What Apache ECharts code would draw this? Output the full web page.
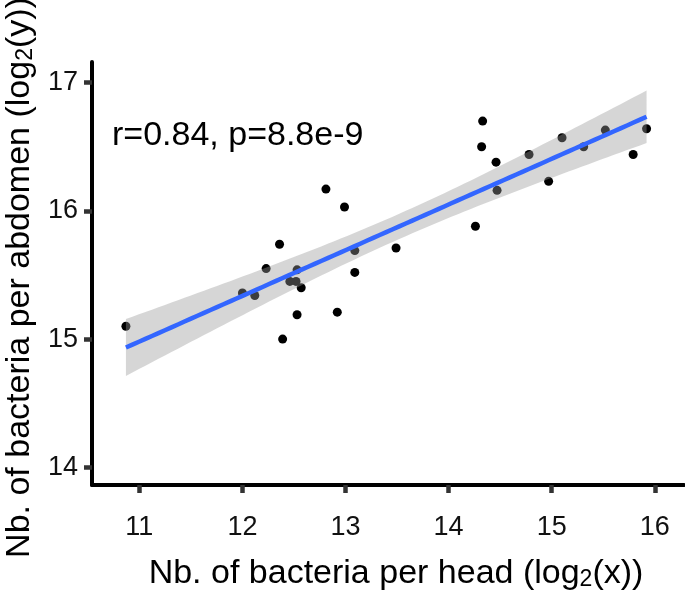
<!DOCTYPE html>
<html>
<head>
<meta charset="utf-8">
<script src="https://cdn.jsdelivr.net/npm/echarts@6/dist/echarts.min.js"></script>
<style>html,body{margin:0;padding:0;background:#fff}#c{width:685px;height:596px}</style>
</head>
<body>
<div id="c"></div>
<script>
// Data (log2 counts)
const headLog2 = [10.87,12.00,12.12,12.23,12.36,12.39,12.53,12.46,12.52,12.57,12.53,12.92,13.09,13.09,12.99,12.81,13.49,14.26,14.33,14.32,14.46,14.47,14.78,14.97,15.10,15.31,15.52,15.79,15.92];
const abdomenLog2 = [15.10,15.36,15.34,15.55,15.74,15.00,15.54,15.45,15.45,15.40,15.19,15.21,15.52,15.69,16.03,16.17,15.71,15.88,16.70,16.50,16.38,16.16,16.44,16.23,16.57,16.50,16.63,16.44,16.64];
const xTicks = [11,12,13,14,15,16];
const yTicks = [14,15,16,17];
const annotation = 'r=0.84, p=8.8e-9';

// linear fit + 95% confidence band (as geom_smooth(method = "lm"))
const n = headLog2.length;
const mx = headLog2.reduce((a,b)=>a+b,0)/n;
const my = abdomenLog2.reduce((a,b)=>a+b,0)/n;
let sxx=0, sxy=0;
for (let i=0;i<n;i++){ sxx+=(headLog2[i]-mx)**2; sxy+=(headLog2[i]-mx)*(abdomenLog2[i]-my); }
const slope = sxy/sxx, icpt = my - slope*mx;
let sse=0;
for (let i=0;i<n;i++){ sse+=(abdomenLog2[i]-(icpt+slope*headLog2[i]))**2; }
const s = Math.sqrt(sse/(n-2));
const tq = 2.0518;
const xmin = Math.min(...headLog2), xmax = Math.max(...headLog2);
const fit = [], band = [];
for (let k=0;k<=80;k++){
  const x = xmin + (xmax-xmin)*k/80;
  const yh = icpt + slope*x;
  const se = s*Math.sqrt(1/n + (x-mx)**2/sxx);
  fit.push([x, yh]);
  band.push([x, yh - tq*se, yh + tq*se]);
}
const points = headLog2.map((x,i)=>[x, abdomenLog2[i]]);

const FONT = 'Liberation Sans, Arial, sans-serif';
const chart = echarts.init(document.getElementById('c'), null, {renderer:'canvas'});
chart.setOption({
  backgroundColor:'#fff',
  animation:false,
  grid:{left:92, right:1, top:62, bottom:111, containLabel:false, outerBoundsMode:'none'},
  xAxis:{
    type:'value', min:10.541, max:16.283,
    name:'Nb. of bacteria per head (log{sub|2}(x))',
    nameLocation:'middle', nameGap:72,
    nameTextStyle:{fontFamily:FONT, fontSize:34, color:'#000', padding:[0,0,0,16],
      rich:{sub:{fontFamily:FONT, fontSize:23, color:'#000', verticalAlign:'bottom', lineHeight:23}}},
    axisLine:{show:true, onZero:false, lineStyle:{color:'#000', width:4}},
    axisTick:{show:true, customValues:xTicks, length:8, lineStyle:{color:'#333', width:4.5}},
    axisLabel:{customValues:xTicks, margin:29, fontFamily:FONT, fontSize:27, color:'#111'},
    splitLine:{show:false}
  },
  yAxis:{
    type:'value', min:13.862, max:17.161,
    name:'Nb. of bacteria per abdomen (log{sub|2}(y))',
    nameLocation:'middle', nameGap:52, nameRotate:90,
    nameTextStyle:{fontFamily:FONT, fontSize:34, color:'#000', padding:[0,8,0,0],
      rich:{sub:{fontFamily:FONT, fontSize:23, color:'#000', verticalAlign:'bottom', lineHeight:23}}},
    axisLine:{show:true, onZero:false, lineStyle:{color:'#000', width:4}},
    axisTick:{show:true, customValues:yTicks, length:8, lineStyle:{color:'#333', width:4.5}},
    axisLabel:{customValues:yTicks, margin:14, fontFamily:FONT, fontSize:27, color:'#111'},
    splitLine:{show:false}
  },
  series:[
    {type:'scatter', data:points, symbolSize:9, itemStyle:{color:'#000', opacity:1}, z:2},
    {type:'custom', data:band, z:3, silent:true,
      encode:{x:0, y:[1,2]},
      renderItem:function(params, api){
        if (params.dataIndex !== 0) return {type:'group', children:[]};
        const pts = [];
        for (let i=0;i<band.length;i++) pts.push(api.coord([band[i][0], band[i][2]]));
        for (let i=band.length-1;i>=0;i--) pts.push(api.coord([band[i][0], band[i][1]]));
        return {type:'polygon', shape:{points:pts}, style:{fill:'rgba(153,153,153,0.4)'}};
      }
    },
    {type:'line', data:fit, showSymbol:false, z:4, lineStyle:{color:'#3366FF', width:4.5}}
  ],
  graphic:[
    {type:'text', left:112, top:119, style:{text:annotation, font:'34px ' + FONT, fill:'#000'}}
  ]
});
</script>
</body>
</html>
